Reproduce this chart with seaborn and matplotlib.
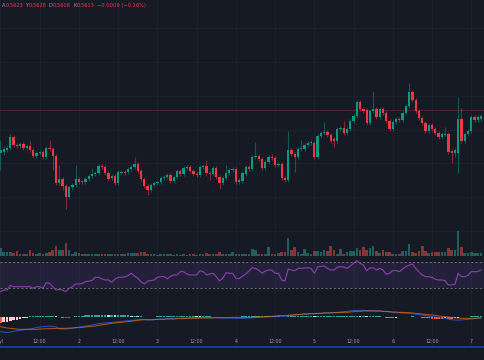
import numpy as np
import pandas as pd
import matplotlib
matplotlib.use("Agg")
import matplotlib.pyplot as plt
import seaborn as sns

# saatlik mumlar, 1-7 Eylul
acilis = [0.5570, 0.5571, 0.5573, 0.5575, 0.5586, 0.5578, 0.5577, 0.5579, 0.5575, 0.5577,
          0.5573, 0.5567, 0.5570, 0.5571, 0.5566, 0.5575, 0.5574, 0.5567, 0.5540, 0.5544,
          0.5537, 0.5526, 0.5536, 0.5538, 0.5544, 0.5542, 0.5541, 0.5544, 0.5547, 0.5549,
          0.5550, 0.5557, 0.5556, 0.5550, 0.5545, 0.5547, 0.5540, 0.5550, 0.5551, 0.5551,
          0.5554, 0.5556, 0.5559, 0.5552, 0.5544, 0.5537, 0.5533, 0.5538, 0.5540, 0.5541,
          0.5545, 0.5546, 0.5548, 0.5542, 0.5546, 0.5552, 0.5549, 0.5555, 0.5556, 0.5552,
          0.5549, 0.5548, 0.5556, 0.5557, 0.5550, 0.5549, 0.5555, 0.5546, 0.5540, 0.5545,
          0.5550, 0.5553, 0.5554, 0.5541, 0.5542, 0.5549, 0.5556, 0.5554, 0.5566, 0.5567,
          0.5564, 0.5555, 0.5561, 0.5566, 0.5565, 0.5558, 0.5559, 0.5545, 0.5543, 0.5573,
          0.5569, 0.5566, 0.5574, 0.5574, 0.5578, 0.5580, 0.5580, 0.5566, 0.5587, 0.5590,
          0.5591, 0.5588, 0.5584, 0.5582, 0.5594, 0.5595, 0.5590, 0.5594, 0.5602, 0.5607,
          0.5621, 0.5614, 0.5613, 0.5600, 0.5612, 0.5614, 0.5606, 0.5614, 0.5610, 0.5602,
          0.5594, 0.5601, 0.5604, 0.5603, 0.5610, 0.5617, 0.5631, 0.5623, 0.5612, 0.5605,
          0.5600, 0.5592, 0.5598, 0.5594, 0.5590, 0.5586, 0.5588, 0.5589, 0.5572, 0.5570,
          0.5570, 0.5604, 0.5582, 0.5589, 0.5592, 0.5606, 0.5603, 0.5604]
kapanis = [0.5573, 0.5574, 0.5575, 0.5586, 0.5578, 0.5577, 0.5579, 0.5575, 0.5577, 0.5573,
           0.5567, 0.5570, 0.5571, 0.5566, 0.5575, 0.5574, 0.5567, 0.5540, 0.5544, 0.5537,
           0.5526, 0.5536, 0.5538, 0.5544, 0.5541, 0.5541, 0.5544, 0.5547, 0.5549, 0.5550,
           0.5557, 0.5556, 0.5550, 0.5544, 0.5547, 0.5540, 0.5551, 0.5551, 0.5550, 0.5554,
           0.5556, 0.5559, 0.5552, 0.5544, 0.5537, 0.5533, 0.5538, 0.5540, 0.5541, 0.5545,
           0.5546, 0.5548, 0.5542, 0.5546, 0.5552, 0.5549, 0.5555, 0.5556, 0.5552, 0.5549,
           0.5548, 0.5556, 0.5557, 0.5550, 0.5549, 0.5555, 0.5546, 0.5540, 0.5545, 0.5550,
           0.5553, 0.5554, 0.5541, 0.5543, 0.5550, 0.5556, 0.5554, 0.5566, 0.5567, 0.5564,
           0.5555, 0.5561, 0.5566, 0.5565, 0.5558, 0.5559, 0.5545, 0.5543, 0.5573, 0.5569,
           0.5566, 0.5574, 0.5575, 0.5578, 0.5580, 0.5581, 0.5566, 0.5587, 0.5590, 0.5591,
           0.5588, 0.5582, 0.5582, 0.5594, 0.5595, 0.5590, 0.5594, 0.5602, 0.5607, 0.5621,
           0.5614, 0.5612, 0.5600, 0.5612, 0.5614, 0.5606, 0.5614, 0.5610, 0.5602, 0.5594,
           0.5601, 0.5604, 0.5603, 0.5610, 0.5617, 0.5631, 0.5623, 0.5612, 0.5605, 0.5600,
           0.5592, 0.5598, 0.5594, 0.5590, 0.5586, 0.5589, 0.5589, 0.5571, 0.5570, 0.5573,
           0.5604, 0.5582, 0.5589, 0.5592, 0.5606, 0.5603, 0.5606, 0.5607]
yuksek = [0.5583, 0.5577, 0.5578, 0.5589, 0.5588, 0.5580, 0.5581, 0.5581, 0.5579, 0.5582,
          0.5575, 0.5572, 0.5573, 0.5573, 0.5577, 0.5583, 0.5576, 0.5569, 0.5558, 0.5546,
          0.5539, 0.5538, 0.5540, 0.5558, 0.5546, 0.5543, 0.5546, 0.5549, 0.5555, 0.5552,
          0.5559, 0.5559, 0.5558, 0.5552, 0.5549, 0.5549, 0.5553, 0.5553, 0.5553, 0.5556,
          0.5558, 0.5566, 0.5561, 0.5554, 0.5546, 0.5539, 0.5540, 0.5542, 0.5543, 0.5547,
          0.5548, 0.5550, 0.5550, 0.5548, 0.5554, 0.5554, 0.5557, 0.5558, 0.5558, 0.5554,
          0.5551, 0.5558, 0.5559, 0.5563, 0.5552, 0.5557, 0.5557, 0.5548, 0.5547, 0.5558,
          0.5555, 0.5556, 0.5556, 0.5545, 0.5552, 0.5558, 0.5558, 0.5568, 0.5581, 0.5569,
          0.5566, 0.5563, 0.5568, 0.5569, 0.5567, 0.5561, 0.5561, 0.5547, 0.5592, 0.5575,
          0.5571, 0.5576, 0.5583, 0.5580, 0.5582, 0.5583, 0.5582, 0.5589, 0.5592, 0.5601,
          0.5593, 0.5590, 0.5586, 0.5596, 0.5597, 0.5602, 0.5596, 0.5604, 0.5609, 0.5623,
          0.5623, 0.5616, 0.5615, 0.5614, 0.5632, 0.5616, 0.5616, 0.5616, 0.5612, 0.5604,
          0.5603, 0.5606, 0.5606, 0.5612, 0.5619, 0.5640, 0.5633, 0.5625, 0.5614, 0.5607,
          0.5602, 0.5600, 0.5600, 0.5596, 0.5592, 0.5591, 0.5596, 0.5591, 0.5574, 0.5575,
          0.5626, 0.5615, 0.5591, 0.5594, 0.5608, 0.5608, 0.5608, 0.5609]
dusuk = [0.5553, 0.5568, 0.5571, 0.5573, 0.5576, 0.5575, 0.5575, 0.5573, 0.5573, 0.5571,
         0.5565, 0.5565, 0.5568, 0.5564, 0.5564, 0.5572, 0.5553, 0.5538, 0.5538, 0.5533,
         0.5514, 0.5524, 0.5533, 0.5536, 0.5539, 0.5539, 0.5539, 0.5542, 0.5545, 0.5547,
         0.5548, 0.5554, 0.5548, 0.5542, 0.5543, 0.5538, 0.5538, 0.5548, 0.5548, 0.5549,
         0.5552, 0.5554, 0.5550, 0.5542, 0.5535, 0.5528, 0.5531, 0.5536, 0.5538, 0.5539,
         0.5543, 0.5544, 0.5540, 0.5540, 0.5544, 0.5547, 0.5547, 0.5553, 0.5550, 0.5547,
         0.5546, 0.5546, 0.5554, 0.5548, 0.5543, 0.5547, 0.5544, 0.5534, 0.5538, 0.5543,
         0.5548, 0.5551, 0.5539, 0.5539, 0.5540, 0.5547, 0.5552, 0.5552, 0.5564, 0.5562,
         0.5553, 0.5553, 0.5559, 0.5563, 0.5556, 0.5556, 0.5543, 0.5541, 0.5541, 0.5567,
         0.5551, 0.5564, 0.5572, 0.5572, 0.5576, 0.5578, 0.5564, 0.5564, 0.5585, 0.5588,
         0.5586, 0.5580, 0.5576, 0.5580, 0.5592, 0.5588, 0.5588, 0.5592, 0.5600, 0.5605,
         0.5612, 0.5610, 0.5598, 0.5598, 0.5610, 0.5604, 0.5604, 0.5608, 0.5600, 0.5592,
         0.5592, 0.5599, 0.5601, 0.5601, 0.5608, 0.5615, 0.5621, 0.5610, 0.5603, 0.5598,
         0.5590, 0.5590, 0.5592, 0.5588, 0.5584, 0.5584, 0.5587, 0.5569, 0.5560, 0.5566,
         0.5550, 0.5580, 0.5580, 0.5587, 0.5590, 0.5601, 0.5601, 0.5602]
# hacim (milyon)
hacim = [2.4, 1.0, 1.0, 1.0, 0.8, 1.4, 0.6, 0.4, 0.6, 1.7,
         0.9, 0.6, 0.7, 0.6, 0.8, 1.2, 1.8, 2.9, 1.8, 1.8,
         3.7, 1.6, 0.6, 1.2, 0.8, 0.4, 0.5, 0.4, 0.6, 0.5,
         0.5, 0.6, 0.5, 0.6, 0.4, 0.5, 0.5, 0.4, 0.5, 0.7,
         0.7, 0.9, 0.9, 1.0, 1.0, 0.6, 0.4, 0.4, 0.3, 0.4,
         0.5, 0.4, 0.5, 0.3, 0.4, 0.3, 0.4, 0.3, 0.4, 0.4,
         0.3, 0.4, 0.5, 0.8, 0.6, 0.5, 0.6, 1.0, 0.5, 0.6,
         0.4, 1.2, 0.6, 0.5, 0.4, 0.5, 0.4, 2.0, 1.8, 0.6,
         0.6, 0.4, 2.6, 0.6, 0.6, 0.8, 1.0, 1.0, 5.2, 1.8,
         2.6, 1.0, 0.6, 2.0, 0.8, 0.6, 1.4, 1.4, 1.2, 1.6,
         1.4, 2.8, 1.8, 0.6, 2.0, 0.6, 1.2, 1.4, 1.4, 2.4,
         1.6, 2.6, 1.8, 2.2, 2.8, 1.4, 0.8, 1.8, 1.0, 1.2,
         0.6, 0.6, 0.6, 1.4, 1.4, 3.4, 1.0, 0.8, 1.4, 2.8,
         1.4, 0.8, 1.2, 1.0, 1.0, 1.2, 1.2, 2.2, 1.6, 1.6,
         7.4, 2.6, 0.8, 0.8, 1.0, 0.8, 0.8, 0.8]
rsi = [24.8, 27.4, 27.4, 34.6, 32.5, 32.5, 32.5, 32.5, 32.5, 32.5,
       30.0, 32.5, 32.5, 30.0, 38.7, 37.7, 32.5, 27.4, 28.0, 27.4,
       24.8, 30.0, 32.5, 36.6, 36.6, 37.5, 40.2, 41.0, 42.0, 46.9,
       46.9, 44.5, 42.8, 42.8, 39.5, 44.0, 46.9, 46.9, 47.5, 49.5,
       53.1, 48.9, 45.4, 40.2, 36.6, 41.0, 42.0, 42.8, 46.9, 48.0,
       48.0, 44.5, 48.5, 50.5, 50.5, 55.6, 55.6, 52.0, 50.5, 50.5,
       50.5, 57.2, 55.6, 50.5, 52.0, 53.0, 48.0, 41.5, 45.4, 54.0,
       53.1, 53.1, 45.4, 45.0, 48.4, 52.0, 56.6, 61.7, 60.7, 57.7,
       53.1, 56.6, 58.2, 58.2, 53.1, 53.1, 42.8, 41.3, 59.7, 58.2,
       57.0, 60.7, 60.7, 61.2, 61.7, 60.7, 53.1, 62.8, 63.8, 64.3,
       60.7, 58.2, 58.2, 62.3, 63.3, 62.8, 60.7, 64.3, 68.4, 72.5,
       68.4, 65.8, 57.2, 61.2, 61.7, 58.2, 60.7, 58.2, 51.5, 53.1,
       57.2, 57.2, 55.6, 59.7, 63.3, 65.8, 67.4, 60.7, 55.1, 50.5,
       47.9, 47.9, 46.9, 43.8, 42.8, 42.8, 41.8, 35.1, 35.1, 36.1,
       53.1, 47.9, 47.9, 50.0, 55.6, 55.6, 55.6, 58.2]
# MACD degerleri (x1e-5)
macd = [-45, -46, -48, -46, -44, -42, -41, -40, -38, -37,
        -35, -33, -31, -30, -29, -28, -29, -31, -36, -37,
        -37, -36, -35, -33, -31, -30, -28, -27, -25, -23,
        -21, -20, -19, -18, -17, -16, -15, -14, -13, -12,
        -11, -10, -9, -8, -9, -10, -10, -9, -8, -7,
        -7, -6, -6, -6, -5, -5, -4, -4, -3, -3,
        -3, -3, -3, -3, -3, -3, -3, -4, -4, -4,
        -4, -4, -5, -5, -5, -4, -4, -3, -3, -2,
        -2, -1, -1, 0, 0, 1, 1, 1, 3, 4,
        5, 6, 7, 8, 8, 9, 9, 10, 10, 11,
        11, 12, 12, 13, 14, 15, 16, 17, 18, 19,
        19, 19, 18, 18, 18, 17, 17, 16, 15, 14,
        13, 12, 12, 11, 11, 10, 9, 8, 6, 5,
        3, 2, 0, -1, -3, -4, -5, -7, -9, -10,
        -10, -10, -9, -8, -7, -6, -5, -4]
sinyal = [-30, -32, -34, -35, -36, -37, -38, -38, -38, -38,
          -38, -38, -37, -37, -36, -36, -36, -35, -35, -35,
          -35, -34, -34, -33, -33, -32, -31, -30, -29, -28,
          -26, -25, -23, -22, -20, -19, -18, -17, -16, -15,
          -14, -12, -11, -10, -9, -9, -9, -9, -8, -8,
          -8, -7, -7, -7, -6, -6, -6, -5, -5, -5,
          -5, -4, -4, -4, -4, -4, -3, -3, -3, -3,
          -3, -2, -2, -2, -3, -3, -2, -2, -1, -1,
          0, 0, 1, 1, 2, 3, 3, 4, 4, 5,
          6, 6, 7, 8, 8, 9, 9, 10, 10, 11,
          11, 11, 12, 12, 12, 13, 13, 14, 15, 16,
          16, 17, 17, 17, 17, 17, 17, 16, 16, 15,
          14, 14, 13, 13, 12, 12, 11, 10, 9, 8,
          7, 6, 5, 4, 2, 1, 0, -1, -2, -3,
          -4, -5, -5, -5, -5, -5, -4, -4]
histogram = [-20, -17, -15, -13, -11, -9, -7, -5, -3, 1,
             2, 2, 2, 2, 2, 2, 2, 1, -2, -3,
             -3, -3, -1, 2, 3, 3, 4, 4, 5, 5,
             6, 6, 6, 5, 5, 4, 4, 4, 4, 4,
             3, 3, 2, 2, -1, -2, -2, -1, 1, 1,
             1, 1, 1, 1, 2, 2, 2, 2, 3, 3,
             2, 1, 1, 1, 1, 0.5, 0.5, -0.5, 0.5, 0.5,
             0.5, 0.5, 0.5, 0.5, 1, 1, 1, 1, 1, 1,
             1, 1, 1, 1, 1, 1, -1, -2, 1, 1,
             1, 2, 2, 2, 2, 2, 1, 2, 2, 2,
             2, 2, 2, 2, 2, 2, 2, 3, 3, 3,
             2, 2, 1, 1, 1, 1, 1, -2, -3, -4,
             -4, -3, -2, -1, -1, -1, 1, -1, -2, -3,
             -4, -5, -6, -6, -6, -6, -5, -6, -6, -5,
             -3, -2, -1, -1, 1, 2, 2, 2]

zaman_etiketleri = ["Eyl", "12:00", "2", "12:00", "3", "12:00", "4",
                    "12:00", "5", "12:00", "6", "12:00", "7"]
baslik_harfleri = ["A", "Y", "D", "K"]
baslik_degerleri = ["0.5623", "0.5628", "0.5608", "0.5613"]
degisim = "\u22120.0009 (\u22120.16%)"
son_fiyat = 0.5613

# renkler
ARKA = "#161a25"
IZGARA = "#1c202c"
YESIL = "#089981"
KIRMIZI = "#f23645"
GRI = "#9598a1"

sns.set_theme(style="dark", rc={"axes.facecolor": ARKA, "figure.facecolor": ARKA})
plt.rcParams["font.family"] = ["DejaVu Sans"]

df = pd.DataFrame({"acilis": acilis, "kapanis": kapanis, "yuksek": yuksek, "dusuk": dusuk,
                   "hacim": hacim, "rsi": rsi, "macd": macd, "sinyal": sinyal, "hist": histogram})
df["i"] = np.arange(len(df))
yukselen = df["kapanis"] >= df["acilis"]
mum_renk = np.where(yukselen, YESIL, KIRMIZI)

W, H = 485, 360
fig = plt.figure(figsize=(W / 100, H / 100), dpi=100)
fig.patch.set_facecolor(ARKA)
XLIM = (-0.15, 148.2)


def panel(ust, alt, izgara=True):
    ax = fig.add_axes([0, 1 - alt / H, 1, (alt - ust) / H])
    ax.set_facecolor(ARKA)
    ax.set_xlim(*XLIM)
    for s in ax.spines.values():
        s.set_visible(False)
    ax.set_xticks(range(0, 148, 12))
    ax.tick_params(left=False, bottom=False, labelleft=False, labelbottom=False)
    ax.grid(izgara, axis="x", color=IZGARA, lw=0.8)
    return ax


# fiyat paneli
ax = panel(0, 258)
ax.set_ylim(0.5465, 0.5723)
ax.set_yticks([0.5695, 0.5661, 0.5627, 0.5593, 0.5560, 0.5526, 0.5492])
ax.grid(True, axis="y", color=IZGARA, lw=0.8)
ax.axhline(son_fiyat, color=KIRMIZI, lw=0.6, alpha=0.3, zorder=1)
ax.vlines(df["i"], df["dusuk"], df["yuksek"], colors=mum_renk, lw=0.8, alpha=0.5, zorder=2)
ax.bar(df["i"], (df["kapanis"] - df["acilis"]).abs(), bottom=df[["acilis", "kapanis"]].min(axis=1),
       width=0.7, color=mum_renk, lw=0, zorder=3)

# hacim (fiyat panelinin altinda)
axh = panel(226, 255.7, izgara=False)
axh.patch.set_visible(False)
axh.set_ylim(0, 8.9)
axh.bar(df["i"], df["hacim"], width=0.8, lw=0,
        color=np.where(yukselen, "#26a69a", "#ef5350"), alpha=0.5)

# RSI paneli
axr = panel(259, 295)
axr.set_ylim(19.7, 75.1)
axr.axhspan(30, 70, color="#7e57c2", alpha=0.13, lw=0)
for seviye in (70, 30):
    axr.axhline(seviye, color="#787b86", lw=0.6, ls=(0, (2.5, 2.5)))
sns.lineplot(data=df, x="i", y="rsi", ax=axr, color="#8e3fb0", lw=0.8)
axr.set_xlabel("")
axr.set_ylabel("")

# MACD paneli
axm = panel(296, 336)
axm.set_ylim(-58, 62)
onceki = df["hist"].shift(1).fillna(0)
hist_renk = np.where(df["hist"] >= 0,
                     np.where(df["hist"] >= onceki, "#26a69a", "#b2dfdb"),
                     np.where(df["hist"] <= onceki, "#ff5252", "#ffcdd2"))
axm.bar(df["i"], df["hist"], width=0.8, color=hist_renk, lw=0)
sns.lineplot(data=df, x="i", y="macd", ax=axm, color="#2962ff", lw=0.7, alpha=0.8)
sns.lineplot(data=df, x="i", y="sinyal", ax=axm, color="#ff6d00", lw=0.7, alpha=0.7)
axm.set_xlabel("")
axm.set_ylabel("")

# zaman ekseni
axz = panel(336, 347, izgara=False)
axz.set_ylim(0, 1)
axz.spines["bottom"].set_visible(True)
axz.spines["bottom"].set_color("#1e3f9a")
axz.spines["bottom"].set_linewidth(1.3)
for k, etiket in enumerate(zaman_etiketleri):
    axz.text(k * 12, 0.48, etiket, color=GRI, fontsize=3.4, ha="center", va="center")

# baslik: son mumun degerleri
renderer = fig.canvas.get_renderer()
x = 1.5
y = 1 - 5.5 / H
for harf, deger in zip(baslik_harfleri, baslik_degerleri):
    t = fig.text(x / W, y, harf, color=GRI, fontsize=3.7, va="center")
    x = t.get_window_extent(renderer).x1 + 0.3
    t = fig.text(x / W, y, deger, color=KIRMIZI, fontsize=3.7, va="center")
    x = t.get_window_extent(renderer).x1 + 2.2
fig.text(x / W, y, degisim, color=KIRMIZI, fontsize=3.7, va="center")

fig.savefig("out.png", dpi=100, facecolor=ARKA)
